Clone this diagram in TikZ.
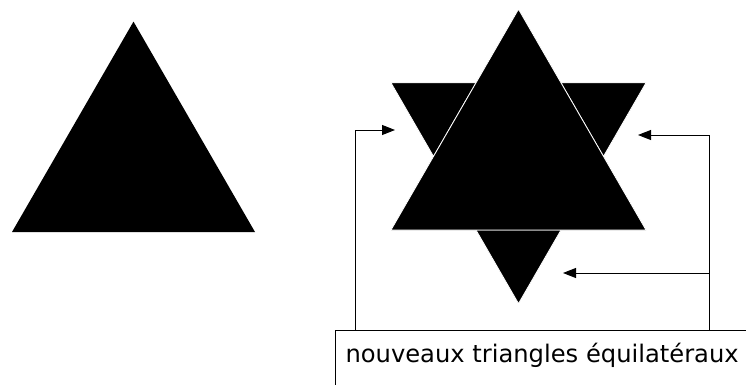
\documentclass[tikz,border=0pt]{standalone}
\usepackage{fontspec}
\usetikzlibrary{arrows.meta}
\newfontfamily\labelfont{DejaVu Sans}

\begin{document}
\begin{tikzpicture}[x=1pt,y=-1pt,line width=1pt,
  tri/.style={fill=black,draw=white,line width=0.8pt,line join=miter},
  arr/.style={-{Triangle[length=13pt,width=10pt]}}]
\clip (0,0) rectangle (746,385);
% triangle de depart
\fill (12,232) -- (255,232) -- (133.5,21.6) -- cycle;
% nouveaux triangles
\filldraw[tri] (391,82.8) -- (476,82.8) -- (433.5,156.4) -- cycle;
\filldraw[tri] (561,82.8) -- (646,82.8) -- (603.5,156.4) -- cycle;
\filldraw[tri] (476,230) -- (561,230) -- (518.5,303.6) -- cycle;
\filldraw[tri] (391,230) -- (646,230) -- (518.5,9.2) -- cycle;
% legende
\node[draw,anchor=north west,minimum width=500,minimum height=100] (box) at (335,330) {};
\node[anchor=base west,inner sep=0pt,font=\labelfont\fontsize{24.2}{29}\selectfont] (lbl) at (345,362) {nouveaux triangles équilatéraux};
\coordinate (lfoot) at (355,330);
\coordinate (rfoot) at (709,330);
\coordinate (tipL) at (395,130);
\coordinate (tipR) at (638,135);
\coordinate (tipB) at (563,273);
\draw[arr] (lfoot) |- (tipL);
\draw[arr] (rfoot) |- (tipR);
\draw[arr] (rfoot |- tipB) -- (tipB);
\end{tikzpicture}
\end{document}
